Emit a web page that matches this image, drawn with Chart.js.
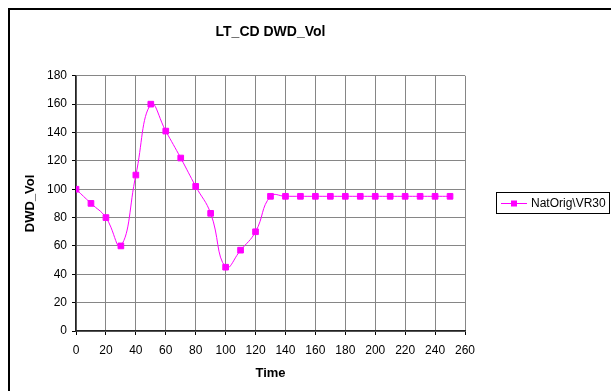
<!DOCTYPE html>
<html>
<head>
<meta charset="utf-8">
<script src="https://cdn.jsdelivr.net/npm/chart.js@4.4.0/dist/chart.umd.min.js"></script>
<style>
  html, body { margin: 0; padding: 0; background: #fff; overflow: hidden; }
  #wrap { width: 611px; height: 391px; position: relative; }
</style>
</head>
<body>
<div id="wrap"><canvas id="chart"></canvas></div>
<script>
// data
const times = [0, 10, 20, 30, 40, 50, 60, 70, 80, 90, 100, 110, 120, 130, 140, 150, 160, 170, 180, 190, 200, 210, 220, 230, 240, 250];
const dwdVol = [100, 90, 80, 60, 110, 160, 141, 122, 102, 83, 45, 57, 70, 95, 95, 95, 95, 95, 95, 95, 95, 95, 95, 95, 95, 95];
const seriesName = "NatOrig\\VR30";
const chartTitle = "LT_CD DWD_Vol";
const xTitle = "Time";
const yTitle = "DWD_Vol";

const magenta = "#ff00ff";
const gridGrey = "#868686";
const fontFamily = "'Liberation Sans', Arial, sans-serif";

// outer frame + boxed legend (excel style)
const excelFrame = {
  id: "excelFrame",
  afterDraw(chart) {
    const ctx = chart.ctx;
    ctx.save();
    ctx.strokeStyle = "#000";
    ctx.lineWidth = 2;
    ctx.beginPath();
    ctx.moveTo(9, 400);
    ctx.lineTo(9, 9);
    ctx.lineTo(620, 9);
    ctx.stroke();

    // legend box
    const bx = 496, by = 192, bw = 113, bh = 21;
    ctx.lineWidth = 1;
    ctx.strokeStyle = "#000";
    ctx.fillStyle = "#fff";
    ctx.fillRect(bx, by, bw, bh);
    ctx.strokeRect(bx + 0.5, by + 0.5, bw, bh);
    ctx.beginPath();
    ctx.rect(bx + 1, by + 1, bw - 1, bh - 1);
    ctx.clip();
    const ds = chart.data.datasets[0];
    const my = by + 11.5;
    ctx.strokeStyle = ds.borderColor;
    ctx.beginPath();
    ctx.moveTo(501, my);
    ctx.lineTo(527, my);
    ctx.stroke();
    ctx.fillStyle = ds.pointBackgroundColor;
    ctx.fillRect(511, my - 3, 6, 6);
    ctx.fillStyle = "#000";
    ctx.font = "12px " + fontFamily;
    ctx.textBaseline = "middle";
    ctx.fillText(ds.label, 531, my);
    ctx.restore();
  }
};

new Chart(document.getElementById("chart"), {
  type: "line",
  data: {
    datasets: [{
      label: seriesName,
      data: times.map((t, i) => ({ x: t, y: dwdVol[i] })),
      borderColor: magenta,
      backgroundColor: magenta,
      pointBackgroundColor: magenta,
      pointBorderColor: magenta,
      pointStyle: "rect",
      pointRadius: 4,
      borderWidth: 1,
      tension: 0.45,
      fill: false
    }]
  },
  options: {
    responsive: true,
    maintainAspectRatio: false,
    animation: false,
    layout: { padding: { left: 10, top: 9, right: 146, bottom: 0 } },
    plugins: {
      legend: { display: false },
      tooltip: { enabled: false },
      title: {
        display: true,
        fullSize: false,
        text: chartTitle,
        color: "#000",
        font: { family: fontFamily, size: 14, weight: "bold" },
        padding: { top: 15, bottom: 35 }
      }
    },
    scales: {
      x: {
        type: "linear",
        min: 0,
        max: 260,
        ticks: {
          stepSize: 20,
          color: "#000",
          padding: 8,
          maxRotation: 0,
          font: { family: fontFamily, size: 12 }
        },
        grid: { color: gridGrey, tickColor: "#000", tickLength: 4 },
        border: { color: "#222", width: 1.5 },
        title: {
          display: true,
          text: xTitle,
          color: "#000",
          font: { family: fontFamily, size: 13, weight: "bold" },
          padding: { top: 0, bottom: 10 }
        },
        afterFit(scale) { scale.height = 60; }
      },
      y: {
        min: 0,
        max: 180,
        ticks: {
          stepSize: 20,
          color: "#000",
          padding: 5,
          font: { family: fontFamily, size: 12 }
        },
        grid: { color: gridGrey, tickColor: "#000", tickLength: 4 },
        border: { color: "#222", width: 1.5 },
        title: {
          display: true,
          text: yTitle,
          color: "#000",
          font: { family: fontFamily, size: 13, weight: "bold" },
          padding: { top: 13, bottom: 0 }
        },
        afterFit(scale) { scale.width = 66; }
      }
    }
  },
  plugins: [excelFrame]
});
</script>
</body>
</html>
